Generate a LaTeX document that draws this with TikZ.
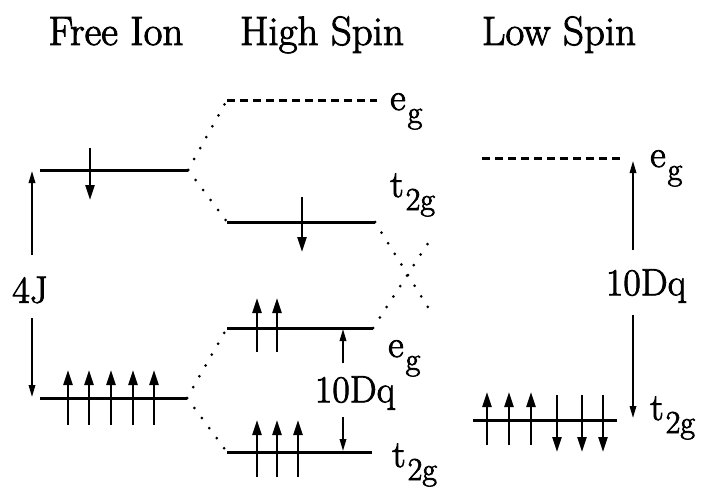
\documentclass[tikz,border=0pt]{standalone}
\usepackage{fontspec}
\setmainfont{Latin Modern Roman}[FakeBold=2.2]
\usetikzlibrary{arrows.meta}
\newcommand{\lowsub}[2]{#1\kern2pt\raisebox{-13pt}{\fontsize{32}{32}\selectfont #2}}
\begin{document}
\begin{tikzpicture}[x=1pt,y=-1pt,
  lvl/.style={line width=3pt},
  dlvl/.style={line width=3pt,dash pattern=on 8pt off 5pt},
  dotc/.style={line width=3pt,line cap=round,dash pattern=on 0pt off 12.5pt},
  spinup/.style={line width=2.4pt,-{Triangle[length=15pt,width=9pt]}},
  spindn/.style={line width=2.4pt,-{Triangle[length=15pt,width=9pt]}},
  gap/.style={line width=1.7pt,-{Triangle[length=12pt,width=6.5pt]}},
  txt/.style={inner sep=0pt,font=\fontsize{38}{40}\selectfont},
  ttl/.style={inner sep=0pt,anchor=base,font=\fontsize{41}{43}\selectfont},
  lab/.style={inner sep=0pt,anchor=base west,font=\fontsize{38}{40}\selectfont}]
\useasboundingbox (0,0) rectangle (706,487);
% titles
\node[ttl] (tfree) at (116,45) {Free Ion};
\node[ttl] (thigh) at (322,45) {High Spin};
\node[ttl] (tlow) at (559,45) {Low Spin};
% free ion levels
\coordinate (fuL) at (40,170); \coordinate (fuR) at (188,170);
\coordinate (flL) at (40,398); \coordinate (flR) at (187,398);
\draw[lvl] (fuL) -- (fuR);
\draw[lvl] (flL) -- (flR);
\draw[spindn] (90,148) -- (90,200);
\foreach \x in {68,89,111,133,154} \draw[spinup] (\x,425) -- (\x,370);
\node[txt] (fourJ) at (30,290) {4J};
\draw[gap] (32,255) -- (32,171);
\draw[gap] (32,318) -- (32,397);
% high spin levels
\coordinate (h1L) at (227,100); \coordinate (h1R) at (377,100);
\coordinate (h2L) at (227,222); \coordinate (h2R) at (375,222);
\coordinate (h3L) at (227,328); \coordinate (h3R) at (373,328);
\coordinate (h4L) at (227,452); \coordinate (h4R) at (372,452);
\draw[dlvl] (h1L) -- (h1R);
\draw[lvl] (h2L) -- (h2R);
\draw[lvl] (h3L) -- (h3R);
\draw[lvl] (h4L) -- (h4R);
\draw[spindn] (302,197) -- (302,252);
\foreach \x in {257,277} \draw[spinup] (\x,352) -- (\x,298);
\foreach \x in {257,277,298} \draw[spinup] (\x,477) -- (\x,420);
\node[lab] (heg1) at (390,110) {\lowsub{e}{g}};
\node[lab] (ht2g1) at (390,197) {\lowsub{t}{2g}};
\node[lab] (heg2) at (388,357) {\lowsub{e}{g}};
\node[lab] (ht2g2) at (392,467) {\lowsub{t}{2g}};
\node[txt] (hdq) at (355,393) {10Dq};
\draw[gap] (343,363) -- (343,329);
\draw[gap] (343,417) -- (343,451);
% dotted correlation lines
\draw[dotc] (fuR) -- (h1L);
\draw[dotc] (fuR) -- (h2L);
\draw[dotc] (flR) -- (h3L);
\draw[dotc] (flR) -- (h4L);
\coordinate (xa) at (431,312); \coordinate (xb) at (434,234);
\draw[dotc] (h2R) -- (xa);
\draw[dotc] (h3R) -- (xb);
% low spin levels
\coordinate (l1L) at (482,158); \coordinate (l1R) at (620,158);
\coordinate (l2L) at (473,420); \coordinate (l2R) at (617,420);
\draw[dlvl] (l1L) -- (l1R);
\draw[lvl] (l2L) -- (l2R);
\foreach \x in {487,509,531} \draw[spinup] (\x,445) -- (\x,392);
\foreach \x in {557,582,603} \draw[spindn] (\x,395) -- (\x,452);
\node[txt] (ldq) at (646,286) {10Dq};
\draw[gap] (633,250) -- (633,161);
\draw[gap] (633,315) -- (633,418);
\node[lab] (leg) at (650,167) {\lowsub{e}{g}};
\node[lab] (lt2g) at (650,420) {\lowsub{t}{2g}};
\end{tikzpicture}
\end{document}
